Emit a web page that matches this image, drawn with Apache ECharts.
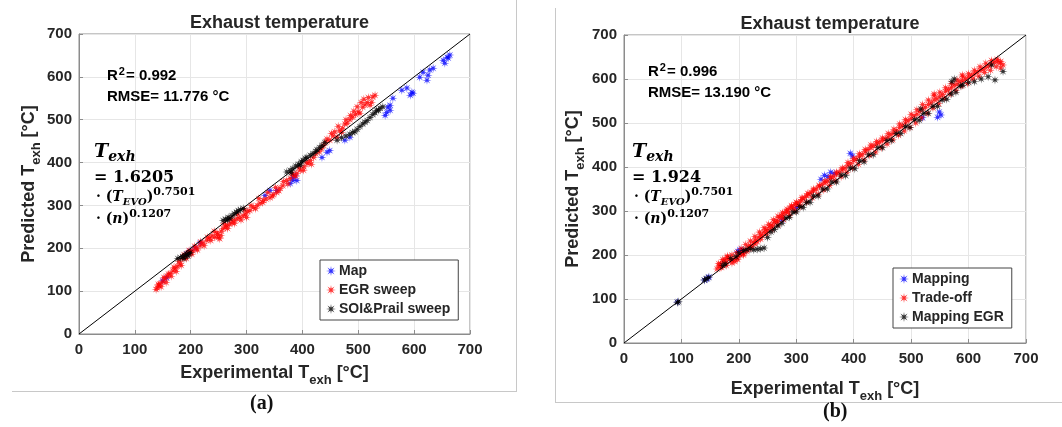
<!DOCTYPE html>
<html><head><meta charset="utf-8">
<script src="https://cdn.jsdelivr.net/npm/echarts/dist/echarts.min.js"></script>
<style>html,body{margin:0;padding:0;background:#fff}#c{width:1062px;height:427px}</style>
</head><body><div id="c"></div>
<script>
// ---------- data ----------
const axisMin = 0, axisMax = 700, axisStep = 100;
const diagonal = [[0, 0], [700, 700]];

// Panel (a)
const mapA = [[150,124],[157,131],[193,187],[199,194],[208,201],[217,213],[333,323],[342,335],[354,335],[378,351],[383,358],[387,370],[390,358],[383,365],[435,412],[444,424],[449,428],[476,452],[485,459],[548,510],[551,517],[553,529],[557,522],[557,534],[562,550],[578,569],[587,574],[593,557],[596,564],[598,562],[610,599],[616,611],[623,592],[625,604],[628,616],[634,620],[652,639],[655,632],[659,646],[661,644],[664,651]];
const egrA = [[140,108],[143,112],[145,117],[150,122],[154,129],[158,135],[163,141],[168,147],[172,152],[176,158],[181,164],[186,176],[190,180],[195,187],[200,192],[204,194],[210,200],[217,206],[222,212],[229,218],[234,224],[238,229],[243,226],[247,236],[249,225],[252,222],[255,240],[258,246],[262,250],[265,253],[270,256],[274,260],[278,265],[283,269],[288,272],[294,276],[298,280],[302,286],[306,288],[312,295],[319,300],[324,305],[329,307],[335,315],[342,318],[348,325],[354,330],[360,340],[365,346],[372,358],[378,363],[384,370],[390,375],[396,382],[403,390],[410,398],[414,405],[420,412],[430,425],[438,440],[444,455],[449,452],[455,462],[462,459],[467,475],[472,480],[476,490],[480,492],[485,500],[490,506],[495,512],[500,518],[503,515],[508,529],[512,535],[516,540],[521,534],[524,541],[526,553],[530,557],
  [138,104],[142,116],[147,110],[152,132],[156,120],[160,140],[165,135],[170,156],[174,146],[179,170],[183,160],[188,185],[192,176],[197,195],[202,186],[207,205],[212,196],[218,215],[224,206],[230,226],[236,218],[242,240],[248,232],[254,230],[260,258],[266,246],[272,268],[278,258],[284,280],[290,266],[296,290],[300,272],[308,300],[316,292],[322,316],[330,312],[338,330],[346,322],[352,342],[358,334],[366,356],[374,350],[382,374],[388,368],[394,388],[402,382],[408,400],[416,396],[424,420],[434,432],[442,448],[452,468],[458,472],[464,485],[470,470],[478,500],[486,510],[492,520],[498,530],[505,540],[510,548],[518,552]];
const soiA = [[177,176],[182,178],[186,180],[190,183],[193,186],[197,188],[199,190],[188,176],[195,182],[258,265],[262,268],[267,272],[270,270],[274,276],[278,281],[282,284],[285,288],[289,290],[294,293],[266,266],[372,378],[378,382],[383,386],[388,392],[393,396],[398,402],[401,405],[405,410],[408,412],[414,417],[419,421],[424,426],[426,430],[431,435],[435,440],[440,447],[380,376],[396,394],[462,452],[470,458],[478,462],[485,466],[490,470],[494,472],[498,478],[503,484],[508,490],[512,494],[516,498],[521,505],[526,512],[530,516],[533,522],[539,527],[544,530],[536,522]];

// Panel (b)
const mappingB = [[93,93],[140,143],[145,146],[148,150],[198,208],[202,212],[206,210],[275,280],[300,308],[343,372],[349,381],[355,378],[360,388],[366,385],[394,431],[398,425],[520,512],[546,513],[549,525],[552,518]];
const tradeB = [[162,168],[165,175],[168,180],[170,172],[173,185],[176,190],[178,183],[180,195],[183,192],[186,188],[190,190],[193,185],[196,193],[199,198],[202,200],[205,206],[208,203],[211,212],[214,208],[217,218],[220,222],[223,218],[226,228],[229,234],[232,230],[235,240],[238,246],[241,243],[244,252],[247,258],[250,255],[253,263],[256,268],[259,266],[262,274],[265,278],[268,276],[271,285],[274,290],[277,286],[280,295],[283,300],[286,297],[289,306],[292,310],[295,305],[298,315],[301,318],[304,314],[307,322],[310,326],[314,330],[318,334],[322,338],[326,342],[330,346],[335,350],[340,356],[345,360],[350,364],[355,368],[360,374],[365,378],[370,384],[375,388],[380,393],[385,398],[390,404],[395,408],[400,414],[405,418],[410,424],[415,428],[420,434],[425,440],[430,444],[435,448],[440,452],[445,456],[450,460],[455,464],[460,468],[465,474],[470,478],[475,483],[480,490],[485,494],[490,500],[495,505],[500,510],[505,516],[510,520],[515,526],[520,532],[525,536],[530,542],[535,546],[540,552],[545,555],[550,560],[555,565],[560,572],[565,576],[570,580],[575,586],[580,588],[585,594],[590,596],[595,600],[600,604],[605,608],[610,612],[615,616],[620,620],[625,622],[630,626],[635,630],[640,634],[645,638],[650,640],[655,636],[660,632],[656,625],[648,628],[638,620],[628,615],[618,606],[608,600],[598,590],[588,584],[578,574],[568,566],[558,556],[548,544],[538,534],[528,522],[518,512],[508,500],[498,490],[488,482],[478,472],[468,462],[458,452],[448,444],[438,434],[428,426],[418,416],[408,406],[398,398],[388,388],[378,378],[368,368],[358,358],[348,348],[338,338],[328,330],[318,320],[308,310],[298,300],[288,290],[278,280],[268,268],[258,258],[248,248],[238,236],[228,225],[218,214],[208,200],[198,190],[188,182],[178,176],[168,172],[589,609],[540,566],
  [165,180],[172,190],[180,198],[188,200],[196,205],[204,215],[212,224],[220,232],[228,242],[236,252],[244,262],[252,270],[260,280],[268,288],[276,296],[284,304],[292,312],[300,320],[310,330],[320,340],[330,350],[340,358],[350,368],[360,378],[370,388],[380,398],[390,410],[400,420],[410,430],[420,440],[430,450],[440,458],[450,466],[460,476],[470,486],[480,498],[490,508],[500,520],[510,530],[520,542],[530,552],[540,562],[550,570],[560,580],[570,590],[580,598],[590,605],[600,612],[610,620],[620,628],[630,636],[640,642],[650,645],[656,640]];
const mapEgrB = [[93,92],[95,94],[140,143],[143,146],[147,149],[172,176],[176,180],[186,192],[195,196],[200,205],[208,210],[214,212],[220,214],[226,212],[232,213],[238,214],[244,216],[250,240],[256,252],[262,258],[268,266],[275,272],[282,284],[288,286],[294,298],[300,298],[306,310],[312,308],[318,320],[324,320],[330,334],[338,334],[346,350],[354,350],[362,366],[370,366],[378,382],[386,380],[394,398],[402,396],[410,414],[418,412],[426,428],[434,428],[442,444],[450,444],[458,460],[466,460],[474,476],[482,476],[490,492],[498,490],[506,508],[514,506],[522,522],[530,522],[538,538],[546,538],[554,552],[562,554],[570,566],[578,570],[586,584],[517,532],[571,594],[575,600],[610,594],[622,600],[634,605],[640,632],[646,598],[660,617],[600,592],[590,586]];

// ---------- chart ----------
const star = 'path://M10 5 L6.39 5.57 L8.54 8.54 L5.57 6.39 L5 10 L4.43 6.39 L1.46 8.54 L3.61 5.57 L0 5 L3.61 4.43 L1.46 1.46 L4.43 3.61 L5 0 L5.57 3.61 L8.54 1.46 L6.39 4.43 Z';
const SANS = 'Liberation Sans';
const SERIF = 'DejaVu Serif';
const TXT = '#262626';
const AX = '#8c8c8c';

function nameRich() {
  return {
    a: {fontSize: 18, fontWeight: 'bold', fontFamily: SANS, color: TXT},
    s: {fontSize: 13, fontWeight: 'bold', fontFamily: SANS, color: TXT, padding: [15, 0, 0, 0]}
  };
}
function xAxis(gi, gap) {
  return {
    type: 'value', gridIndex: gi, min: axisMin, max: axisMax, interval: axisStep,
    axisLine: {show: true, lineStyle: {color: AX}},
    axisTick: {inside: true, length: 4, lineStyle: {color: AX}},
    axisLabel: {color: TXT, fontSize: 15, fontWeight: 'bold', fontFamily: SANS, margin: 8},
    splitLine: {show: true, lineStyle: {color: '#e6e6e6'}},
    name: '{a|Experimental T}{s|exh}{a| [°C]}', nameLocation: 'middle', nameGap: gap,
    nameTextStyle: {rich: nameRich()}
  };
}
function yAxis(gi, gap) {
  return {
    type: 'value', gridIndex: gi, min: axisMin, max: axisMax, interval: axisStep,
    axisLine: {show: true, lineStyle: {color: AX}},
    axisTick: {inside: true, length: 4, lineStyle: {color: AX}},
    axisLabel: {color: TXT, fontSize: 15, fontWeight: 'bold', fontFamily: SANS, margin: 7},
    splitLine: {show: true, lineStyle: {color: '#e6e6e6'}},
    name: '{a|Predicted T}{s|exh}{a| [°C]}', nameLocation: 'middle', nameGap: gap, nameRotate: 90,
    nameTextStyle: {rich: nameRich()}
  };
}
function sc(name, data, color, gi) {
  return {name, type: 'scatter', xAxisIndex: gi, yAxisIndex: gi, data, symbol: star, symbolSize: 9,
    itemStyle: {color}, emphasis: {disabled: true}, animation: false};
}
function diag(gi) {
  return {type: 'line', xAxisIndex: gi, yAxisIndex: gi, data: diagonal, showSymbol: false, symbol: 'none',
    lineStyle: {color: '#000', width: 1}, z: 5, silent: true, animation: false};
}
function legend(items, left, top) {
  return {data: items, orient: 'vertical', left, top, itemGap: 5, itemWidth: 10, itemHeight: 10,
    padding: [4, 8, 4, 6], borderColor: '#444', borderWidth: 1, backgroundColor: '#fff', borderRadius: 0,
    textStyle: {fontSize: 14, fontWeight: 'bold', fontFamily: SANS, color: TXT, padding: [0, 0, 0, -2]}, selectedMode: false};
}
const richTxt = {
  a: {fontSize: 15, fontWeight: 'bold', fontFamily: SANS, color: TXT},
  sup: {fontSize: 11, fontWeight: 'bold', fontFamily: SANS, color: TXT, padding: [0, 1, 9, 1]}
};
const richMath = {
  ti: {fontSize: 19, fontWeight: 'bold', fontStyle: 'italic', fontFamily: SERIF, color: '#111'},
  tis: {fontSize: 14, fontWeight: 'bold', fontStyle: 'italic', fontFamily: SERIF, color: '#111', padding: [10, 0, 0, 0]},
  m: {fontSize: 16, fontWeight: 'bold', fontFamily: SERIF, color: '#111'},
  m2: {fontSize: 14, fontWeight: 'bold', fontFamily: SERIF, color: '#111'},
  ti2: {fontSize: 14, fontWeight: 'bold', fontStyle: 'italic', fontFamily: SERIF, color: '#111'},
  tis2: {fontSize: 10, fontWeight: 'bold', fontStyle: 'italic', fontFamily: SERIF, color: '#111', padding: [9, 0, 0, 0]},
  sup: {fontSize: 11, fontWeight: 'bold', fontFamily: SERIF, color: '#111', padding: [0, 0, 10, 0]}
};
function stats(x, y, r2, rmse) {
  return [
    {type: 'text', left: x, top: y, z: 10, style: {text: '{a|R}{sup|2}{a|= ' + r2 + '}', rich: richTxt}},
    {type: 'text', left: x, top: y + 23, z: 10, style: {text: '{a|RMSE= ' + rmse + ' °C}', rich: richTxt}}
  ];
}
function formula(x, y, coef) {
  return [
    {type: 'text', left: x, top: y, z: 10, style: {text: '{ti|T}{tis|exh}', rich: richMath}},
    {type: 'text', left: x, top: y + 27, z: 10, style: {text: '{m|= ' + coef + '}', rich: richMath}},
    {type: 'text', left: x + 2, top: y + 44, z: 10, style: {text: '{m2|· (}{ti2|T}{tis2|EVO}{m2|)}{sup|0.7501}', rich: richMath}},
    {type: 'text', left: x + 2, top: y + 66, z: 10, style: {text: '{m2|· (}{ti2|n}{m2|)}{sup|0.1207}', rich: richMath}}
  ];
}
const panelLine = {stroke: '#c8c8c8', lineWidth: 1};

const option = {
  backgroundColor: '#fff',
  animation: false,
  title: [
    {text: 'Exhaust temperature', left: 274.5, textAlign: 'center', top: 9, textStyle: {fontSize: 18, fontWeight: 'bold', fontFamily: SANS, color: TXT}},
    {text: 'Exhaust temperature', left: 825, textAlign: 'center', top: 10, textStyle: {fontSize: 18, fontWeight: 'bold', fontFamily: SANS, color: TXT}}
  ],
  grid: [
    {left: 79, top: 34, width: 391, height: 300, show: true, borderColor: AX, borderWidth: 1, backgroundColor: 'transparent'},
    {left: 624, top: 35, width: 402, height: 308, show: true, borderColor: AX, borderWidth: 1, backgroundColor: 'transparent'}
  ],
  xAxis: [xAxis(0, 25), xAxis(1, 32)],
  yAxis: [yAxis(0, 36), yAxis(1, 37)],
  legend: [
    legend(['Map', 'EGR sweep', 'SOI&Prail sweep'], 320, 260),
    legend(['Mapping', 'Trade-off', 'Mapping EGR'], 893, 268)
  ],
  series: [
    sc('Map', mapA, '#0000ff', 0),
    sc('EGR sweep', egrA, '#ff0000', 0),
    sc('SOI&Prail sweep', soiA, '#000000', 0),
    diag(0),
    sc('Mapping', mappingB, '#0000ff', 1),
    sc('Trade-off', tradeB, '#ff0000', 1),
    sc('Mapping EGR', mapEgrB, '#000000', 1),
    diag(1)
  ],
  graphic: [
    {type: 'line', shape: {x1: 12, y1: 391.5, x2: 517, y2: 391.5}, style: panelLine},
    {type: 'line', shape: {x1: 516.5, y1: 0, x2: 516.5, y2: 391}, style: panelLine},
    {type: 'line', shape: {x1: 555.5, y1: 8, x2: 555.5, y2: 402}, style: panelLine},
    {type: 'line', shape: {x1: 555, y1: 402.5, x2: 1062, y2: 402.5}, style: panelLine},
    {type: 'text', left: 250, top: 394, style: {text: '(a)', fontSize: 20, fontWeight: 'bold', fontFamily: 'Liberation Serif', fill: '#111'}},
    {type: 'text', left: 823, top: 402, style: {text: '(b)', fontSize: 20, fontWeight: 'bold', fontFamily: 'Liberation Serif', fill: '#111'}},
    ...stats(107, 66, '0.992', '11.776'),
    ...stats(648, 62, '0.996', '13.190'),
    ...formula(94, 143, '1.6205'),
    ...formula(632, 143, '1.924')
  ]
};
const chart = echarts.init(document.getElementById('c'), null, {renderer: 'canvas'});
chart.setOption(option);
</script>
</body></html>
